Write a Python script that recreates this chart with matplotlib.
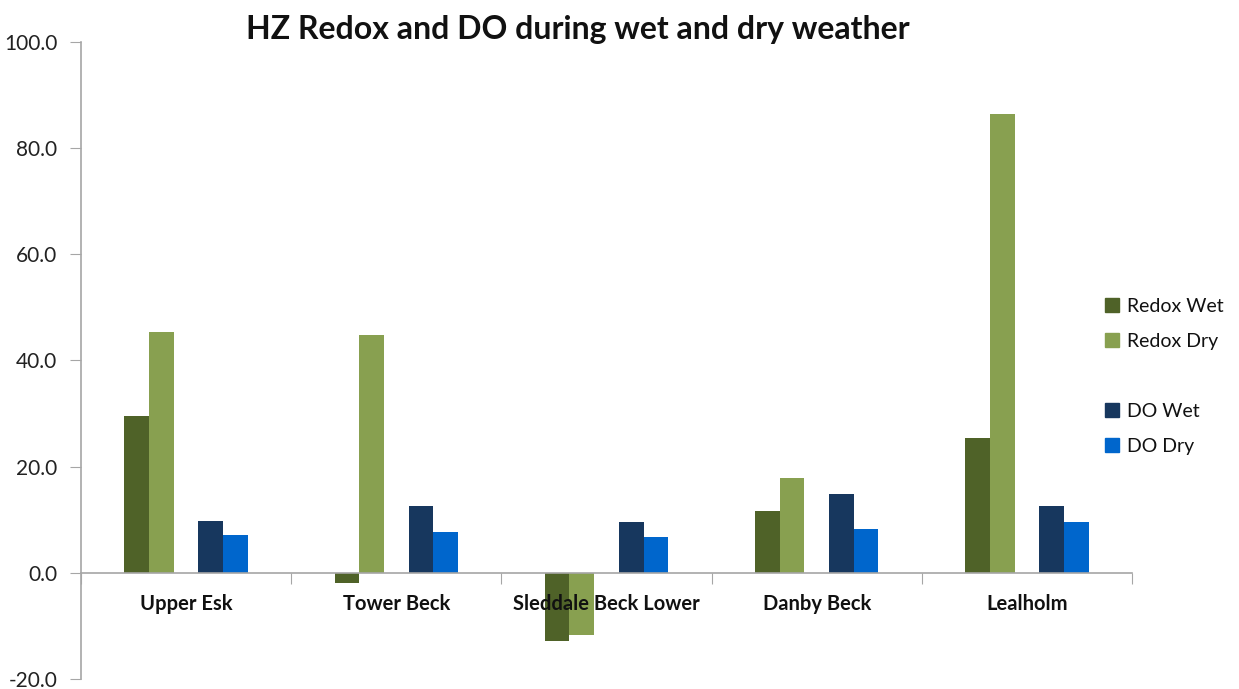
import matplotlib
matplotlib.use("Agg")
import matplotlib.pyplot as plt
from matplotlib.patches import Rectangle
import numpy as np

categories = ["Upper Esk", "Tower Beck", "Sleddale Beck Lower", "Danby Beck", "Lealholm"]
redox_wet = [29.6, -1.9, -12.8, 11.7, 25.4]
redox_dry = [45.4, 44.8, -11.7, 17.9, 86.3]
do_wet = [9.8, 12.6, 9.5, 14.8, 12.6]
do_dry = [7.2, 7.6, 6.8, 8.2, 9.5]
yticks = [-20, 0, 20, 40, 60, 80, 100]

series = [("Redox Wet", redox_wet, "#4F6228"),
          ("Redox Dry", redox_dry, "#88A050"),
          ("DO Wet", do_wet, "#17375E"),
          ("DO Dry", do_dry, "#0066CC")]
offsets = [-2, -1, 1, 2]

plt.rcParams['font.family'] = ['Lato', 'DejaVu Sans']
fig = plt.figure(figsize=(12.39, 6.89), dpi=100)
W, H = 1239, 689
ax = fig.add_axes([81 / W, (H - 679) / H, (1132 - 81) / W, (679 - 41.7) / H])
ax.set_axisbelow(False)

x = np.arange(len(categories))
bw = 0.1175
for (name, vals, col), off in zip(series, offsets):
    ax.bar(x + off * bw, vals, width=bw, color=col, zorder=2, label=name)

ax.set_xlim(-0.5, len(categories) - 0.5)
ax.set_ylim(-20, 100)
ax.set_yticks(yticks)
ax.set_yticklabels([f"{v:.1f}" for v in yticks], fontsize=15, color="#222222")
ax.tick_params(axis='y', direction='out', length=8, color="#A6A6A6", pad=9)

for s in ['top', 'right']:
    ax.spines[s].set_visible(False)
ax.spines['left'].set_color("#A6A6A6")
ax.spines['left'].set_linewidth(1.2)
ax.spines['bottom'].set_position(('data', 0))
ax.spines['bottom'].set_color("#A6A6A6")
ax.spines['bottom'].set_linewidth(1.2)

ax.set_xticks(np.arange(len(categories) + 1) - 0.5)
ax.set_xticklabels([])
ax.tick_params(axis='x', which='major', direction='out', length=8, color="#A6A6A6")
ax.set_xticks(x, minor=True)
ax.set_xticklabels(categories, minor=True, fontsize=14.5, fontweight='bold', color="#111111")
ax.tick_params(axis='x', which='minor', length=0, pad=15)

fig.text(578 / W, 1 - 29 / H, "HZ Redox and DO during wet and dry weather",
         ha='center', va='center', fontsize=23, fontweight='bold', color="#111111")

handles = []
labels = []
for i, (name, vals, col) in enumerate(series):
    handles.append(Rectangle((0, 0), 1, 1, color=col))
    labels.append(name)
    if i == 1:
        handles.append(Rectangle((0, 0), 1, 1, color='none'))
        labels.append(" ")
leg = fig.legend(handles, labels, loc='upper left', bbox_to_anchor=(1097 / W, 1 - 290 / H),
                 frameon=False, fontsize=14, handlelength=0.75, handleheight=0.75,
                 handletextpad=0.4, labelspacing=0.93, borderaxespad=0)
for t in leg.get_texts():
    t.set_color("#111111")

fig.savefig("out.png", dpi=100)
